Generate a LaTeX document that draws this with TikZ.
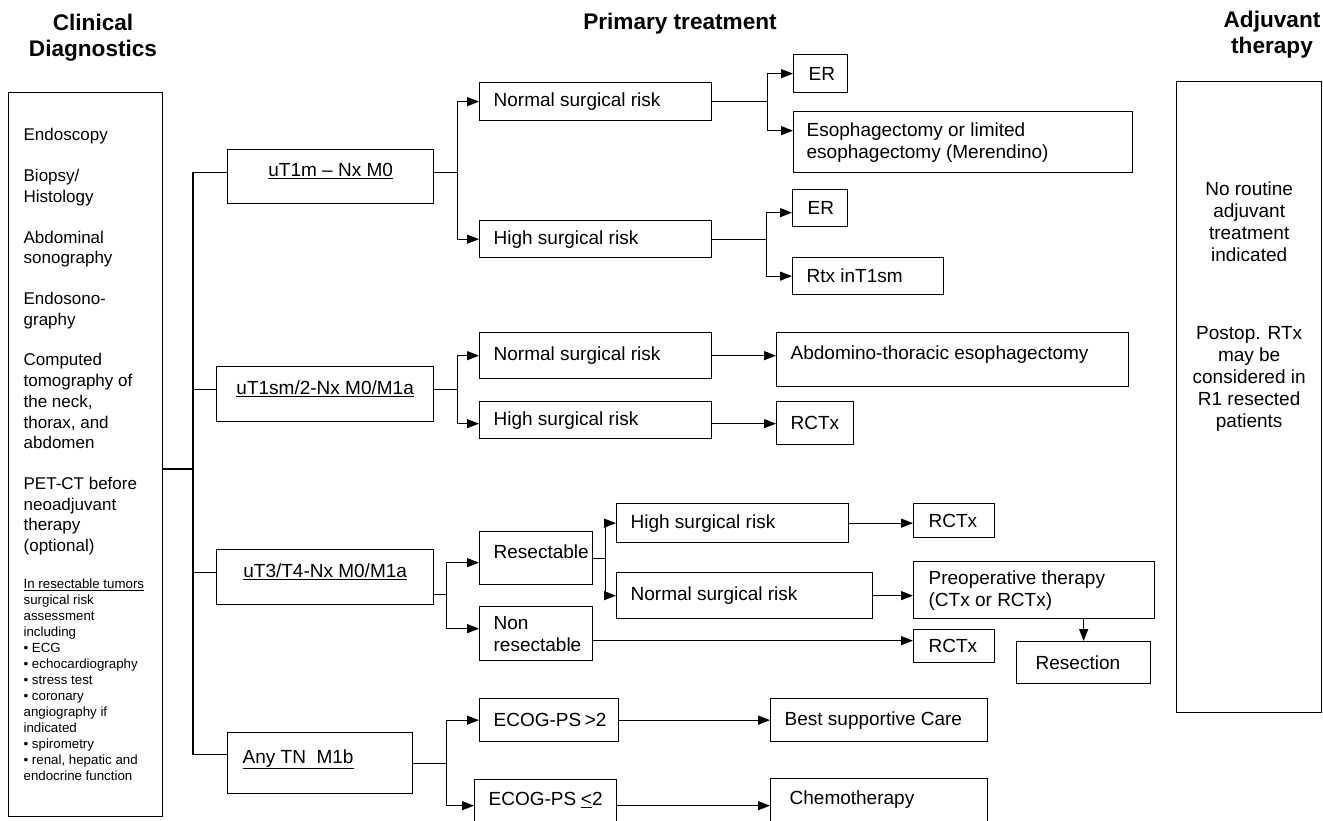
\documentclass[tikz,border=0pt]{standalone}
\usepackage{fontspec}
\setmainfont{Liberation Sans}
\usetikzlibrary{arrows.meta}
\setlength{\parindent}{0pt}
\hyphenpenalty=10000
\exhyphenpenalty=10000
\newcommand\bigtxt{\fontsize{19bp}{22bp}\selectfont}
\newcommand\midtxt{\fontsize{17bp}{20.7bp}\selectfont}
\newcommand\smalltxt{\fontsize{13.3bp}{16bp}\selectfont}
\newcommand\headtxt{\bfseries\fontsize{22.6bp}{26bp}\selectfont}

\begin{document}
\begin{tikzpicture}[x=1bp, y=-1bp, line width=1.3bp,
  >={Triangle[length=12bp,width=9bp]},
  cell/.style={draw, anchor=north west, inner xsep=14bp, inner ysep=0pt, align=flush left, font=\bigtxt},
  toptext/.style={text height=8bp, text depth=8bp},
  head/.style={font=\headtxt, align=center}]
\useasboundingbox (0,0) rectangle (1323,820);
% Column titles
    \node[head] (tdiag) at (93,38) {Clinical\\Diagnostics};
    \node[head] (tprim) at (680,24) {Primary treatment};
    \node[head] (tadj) at (1272,35) {Adjuvant\\therapy};
% Clinical diagnostics
    \node[cell, font=\midtxt, inner xsep=15bp, text width=124bp, minimum height=724bp] (diag) at (8,92)
      {{\midtxt Endoscopy\par\vspace{20bp}Biopsy/\\Histology\par\vspace{20bp}Abdominal\\sonography\par\vspace{20bp}Endosono-\\graphy\par\vspace{20bp}Computed\\tomography of\\the neck,\\thorax, and\\abdomen\par\vspace{20bp}PET-CT before\\neoadjuvant\\therapy\\(optional)\par}\vspace{21bp}{\smalltxt\underline{In resectable tumors}\\surgical risk\\assessment\\including\\• ECG\\• echocardiography\\• stress test\\• coronary\\angiography if\\indicated\\• spirometry\\• renal, hepatic and\\endocrine function\par}};
% Staging
    \node[cell, align=flush center, text width=178bp, minimum height=54bp, toptext] (ut1m) at (227,149) {\underline{uT1m -- Nx M0}};
    \node[cell, align=flush center, text width=189bp, minimum height=55bp, toptext] (ut1sm) at (216,366) {\underline{uT1sm/2-Nx M0/M1a}};
    \node[cell, align=flush center, text width=189bp, minimum height=55bp, toptext] (ut3) at (216,549) {\underline{uT3/T4-Nx M0/M1a}};
    \node[cell, inner xsep=15bp, text width=155bp, minimum height=61bp, toptext] (anytn) at (227,732) {\underline{Any TN~~M1b}};
% uT1m branch
    \node[cell, text width=204bp, minimum height=38bp] (nsr1) at (479,82) {Normal surgical risk};
    \node[cell, text width=204bp, minimum height=37bp] (hsr1) at (479,220) {High surgical risk};
    \node[cell, inner xsep=15bp, text width=24bp, minimum height=38bp] (er1) at (793,54) {ER};
    \node[cell, inner xsep=13bp, text width=313bp, minimum height=61bp] (eso) at (793,111) {Esophagectomy or limited\\esophagectomy (Merendino)};
    \node[cell, inner xsep=15bp, text width=25bp, minimum height=37bp] (er2) at (792,189) {ER};
    \node[cell, text width=123bp, minimum height=37bp] (rtx) at (792,257) {Rtx inT1sm};
% uT1sm branch
    \node[cell, text width=204bp, minimum height=46bp] (nsr2) at (479,332) {Normal surgical risk};
    \node[cell, text width=204bp, minimum height=37bp] (hsr2) at (479,401) {High surgical risk};
    \node[cell, text width=324bp, minimum height=54bp, toptext] (abdo) at (776,332) {Abdomino-thoracic esophagectomy};
    \node[cell, text width=49bp, minimum height=43bp] (rctx1) at (776,401) {RCTx};
% uT3 branch
    \node[cell, text width=85bp, minimum height=53bp, toptext] (res) at (479,531) {Resectable};
    \node[cell, text width=85bp, minimum height=54bp] (nonres) at (479,606) {Non\\resectable};
    \node[cell, text width=204bp, minimum height=39bp] (hsr3) at (616,503) {High surgical risk};
    \node[cell, text width=228bp, minimum height=46bp] (nsr3) at (616,572) {Normal surgical risk};
    \node[cell, inner xsep=15bp, text width=51bp, minimum height=34bp] (rctx2) at (913,503) {RCTx};
    \node[cell, inner xsep=15bp, text width=211bp, minimum height=57bp] (preop) at (913,561) {Preoperative therapy\\(CTx or RCTx)};
    \node[cell, inner xsep=15bp, text width=51bp, minimum height=33bp] (rctx3) at (913,629) {RCTx};
    \node[cell, inner xsep=19bp, text width=96bp, minimum height=42bp] (resec) at (1016,641) {Resection};
% M1b branch
    \node[cell, text width=111bp, minimum height=43bp] (ecog1) at (479,698) {ECOG-PS~>2};
    \node[cell, text width=114bp, minimum height=52bp, toptext] (ecog2) at (474,779) {ECOG-PS~\underline{<}2};
    \node[cell, text width=189bp, minimum height=43bp] (bsc) at (770,698) {Best supportive Care};
    \node[cell, inner xsep=19bp, text width=179bp, minimum height=52bp, toptext] (chemo) at (770,778) {Chemotherapy};
% Adjuvant therapy
    \node[cell, align=flush center, inner xsep=5bp, text width=135bp, minimum height=631bp] (adj) at (1176,81)
      {No routine\\adjuvant\\treatment\\indicated\par\vspace{56bp}Postop. RTx\\may be\\considered in\\R1 resected\\patients\par\vspace{163bp}\mbox{}};
% Trunk from diagnostics to stages
    \coordinate (trunk) at (193,469);
    \draw (diag.east |- trunk) -- (trunk);
    \draw ([yshift=4bp]ut1m.west) -| (trunk) |- ([yshift=8.5bp]anytn.west);
    \draw ([yshift=4.5bp]ut1sm.west) -| (trunk);
    \draw ([yshift=4.5bp]ut3.west) -| (trunk);
% uT1m connectors
    \draw ([yshift=4bp]ut1m.east) -- ++(23,0) coordinate (j1);
    \draw[->] (j1) |- (nsr1);
    \draw[->] (j1) |- (hsr1);
    \draw (nsr1.east) -- ++(55,0) coordinate (j2);
    \draw[->] (j2) |- (er1);
    \draw[->] (j2) |- ([yshift=11.5bp]eso.west);
    \draw (hsr1.east) -- ++(54,0) coordinate (j3);
    \draw[->] (j3) |- ([yshift=-4.5bp]er2.west);
    \draw[->] (j3) |- (rtx);
% uT1sm connectors
    \draw ([yshift=4.5bp]ut1sm.east) -- ++(23,0) coordinate (j4);
    \draw[->] (j4) |- (nsr2);
    \draw[->] (j4) |- ([yshift=-3.5bp]hsr2.west);
    \draw[->] (nsr2.east) -- (nsr2.east -| abdo.west);
    \draw[->] ([yshift=-3.5bp]hsr2.east) -- ([yshift=-3.5bp]hsr2.east -| rctx1.west);
% uT3 connectors
    \draw ([yshift=-17.5bp]ut3.east) -- ++(12,0) coordinate (j5);
    \draw[->] (j5) |- ([yshift=-4.5bp]res.west);
    \draw[->] (j5) |- ([yshift=5bp]nonres.west);
    \draw (res.east) -- ++(12,0) coordinate (j6);
    \draw[->] (j6) |- (hsr3);
    \draw[->] (j6) |- (nsr3);
    \draw[->] (hsr3.east) -- (hsr3.east -| rctx2.west);
    \draw[->] (nsr3.east) -- (nsr3.east -| preop.west);
    \draw[->] ([yshift=-7bp]nonres.east) -- ([yshift=-7bp]nonres.east -| rctx3.west);
    \draw[->] (preop.south -| resec.north) -- (resec.north);
% M1b connectors
    \draw (anytn.east) -- ++(33,0) coordinate (j7);
    \draw[->] (j7) |- (ecog1);
    \draw[->] (j7) |- (ecog2);
    \draw[->] (ecog1.east) -- (ecog1.east -| bsc.west);
    \draw[->] (ecog2.east) -- (ecog2.east -| chemo.west);
\end{tikzpicture}
\end{document}
